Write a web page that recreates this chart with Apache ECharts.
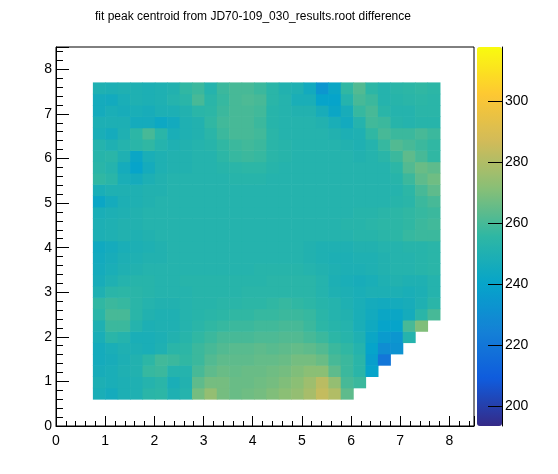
<!DOCTYPE html>
<html><head><meta charset="utf-8">
<script src="https://cdn.jsdelivr.net/npm/echarts@6/dist/echarts.min.js"></script>
<style>html,body{margin:0;padding:0;background:#fff}#c{width:558px;height:474px}</style>
</head><body><div id="c"></div>
<script>
// Histogram binning (bin edges) of the plotted region
const xBinStart = 0.75, xBinWidth = 0.252, nX = 28;
const yBinStart = 0.605, yBinWidth = 0.2536, nY = 28;
// Colour (z) scale range and colour bar ticks
const zMin = 193.5, zMax = 317.8;
const zTicks = [200, 220, 240, 260, 280, 300];
const axisTicks = [0, 1, 2, 3, 4, 5, 6, 7, 8];
const titleText = 'fit peak centroid from JD70-109_030_results.root difference';
// ROOT kBird palette
const birdColors = ['#352a87','#0f5cdd','#1481d6','#06a4ca','#2eb7a4','#87bf77','#d1bb59','#fec832','#f9fb0e'];

// z values, one row per y bin (row 0 = bottom), columns left to right; null = empty bin
const z_r27 = [250,249,250,250,249,250,251,256,258,252,258,260,260,258,254,251,250,245,234,242,256,262,255,252,254,255,256,255];
const z_r26 = [246,245,248,250,249,250,252,254,260,254,257,260,261,260,254,252,248,248,240,240,252,260,258,252,253,254,255,254];
const z_r25 = [246,248,247,248,247,249,249,251,254,255,258,260,260,259,253,252,251,251,247,242,247,257,260,254,252,252,254,254];
const z_r24 = [249,249,249,246,246,243,245,250,251,256,259,260,260,258,253,252,252,252,251,248,245,252,259,258,253,252,253,253];
const z_r23 = [248,246,250,255,260,254,248,250,251,254,258,260,260,259,254,252,252,252,252,251,249,250,256,260,258,258,260,258];
const z_r22 = [252,250,252,254,256,252,250,251,252,253,256,258,259,258,254,253,252,252,252,252,251,250,252,257,262,260,258,256];
const z_r21 = [253,254,250,242,248,250,251,251,252,252,255,257,258,257,254,253,252,252,252,252,252,251,252,254,258,264,260,256];
const z_r20 = [254,252,246,240,246,250,251,251,252,252,253,254,255,255,253,252,252,252,252,252,252,252,252,252,255,262,266,264];
const z_r19 = [256,254,248,246,249,251,252,252,252,252,252,253,253,253,252,252,252,252,252,252,252,252,252,252,253,258,264,267];
const z_r18 = [248,250,250,250,251,251,252,252,252,252,252,252,252,252,252,252,252,252,252,252,252,252,252,252,252,255,260,264];
const z_r17 = [242,246,249,250,251,252,252,252,252,252,252,252,252,252,252,252,252,252,252,252,252,252,252,252,253,254,258,260];
const z_r16 = [248,249,250,251,252,252,252,252,252,252,252,252,252,252,252,252,252,252,252,252,252,253,253,254,255,256,257,258];
const z_r15 = [249,250,251,251,252,252,252,252,252,252,252,252,252,252,252,252,252,252,252,252,253,253,254,255,255,256,258,259];
const z_r14 = [249,250,251,250,251,252,252,252,252,252,252,252,252,252,252,252,252,252,252,252,252,253,253,254,255,257,258,258];
const z_r13 = [244,246,248,249,250,251,252,252,252,252,252,252,252,252,252,252,252,251,250,250,250,251,251,252,252,253,253,254];
const z_r12 = [245,247,249,250,251,251,252,252,252,252,252,252,252,252,252,252,252,251,250,249,249,250,250,251,252,252,253,254];
const z_r11 = [246,248,250,251,252,252,252,252,252,252,252,252,252,253,253,253,253,252,251,250,249,249,250,251,252,252,253,254];
const z_r10 = [247,250,252,253,253,252,252,253,253,253,253,253,253,253,254,254,254,254,252,249,248,247,248,250,251,250,250,252];
const z_r09 = [250,254,255,254,253,252,252,252,253,253,253,253,254,254,254,254,254,254,252,250,249,248,249,249,249,248,249,252];
const z_r08 = [256,258,257,254,252,251,251,252,253,253,254,254,255,255,256,257,256,255,253,252,250,248,246,245,246,247,250,254];
const z_r07 = [254,260,260,254,251,250,250,252,253,254,255,256,256,257,257,258,258,257,254,252,251,248,245,242,242,246,254,260];
const z_r06 = [250,258,258,252,249,250,250,252,254,256,257,258,258,259,259,260,260,258,255,253,252,248,244,240,240,260,270,null];
const z_r05 = [248,254,252,248,248,249,251,253,256,258,260,260,260,261,261,262,262,260,258,255,253,250,242,236,234,252,null,null];
const z_r04 = [246,248,250,249,248,250,254,255,258,260,262,263,263,264,263,264,265,264,262,258,256,252,240,230,232,null,null,null];
const z_r03 = [246,247,249,251,255,259,258,256,258,262,264,264,264,265,265,266,268,268,266,260,258,254,238,220,null,null,null,null];
const z_r02 = [247,248,250,251,257,258,252,252,260,264,266,265,266,266,267,268,270,272,272,264,258,254,240,null,null,null,null,null];
const z_r01 = [249,248,249,250,252,254,248,251,264,268,268,266,266,267,268,270,272,276,282,274,260,258,null,null,null,null,null,null];
const z_r00 = [248,246,249,250,254,255,250,252,268,274,268,266,267,268,270,272,274,278,284,280,264,null,null,null,null,null,null,null];

const zRows = [z_r00,z_r01,z_r02,z_r03,z_r04,z_r05,z_r06,z_r07,z_r08,z_r09,z_r10,z_r11,z_r12,z_r13,
               z_r14,z_r15,z_r16,z_r17,z_r18,z_r19,z_r20,z_r21,z_r22,z_r23,z_r24,z_r25,z_r26,z_r27];

const cells = [];
zRows.forEach((row, i) => row.forEach((v, j) => {
  if (v !== null) cells.push([xBinStart + j * xBinWidth, yBinStart + i * yBinWidth, v]);
}));

const FONT = "'Liberation Sans', Arial, Helvetica, sans-serif";
const chart = echarts.init(document.getElementById('c'), null, {renderer: 'canvas'});
chart.setOption({
  animation: false,
  backgroundColor: '#fff',
  title: {
    text: titleText, left: 90, top: 6,
    textStyle: {fontFamily: FONT, fontSize: 12, fontWeight: 'normal', color: '#000'}
  },
  grid: [
    {left: 56, top: 47, width: 418, height: 379, show: true, borderColor: '#000', borderWidth: 1, backgroundColor: 'transparent'},
    {left: 477, top: 47, width: 25, height: 379, show: false}
  ],
  xAxis: [
    {gridIndex: 0, type: 'value', min: 0, max: 8.5, interval: 1,
     axisLine: {show: true, onZero: false, lineStyle: {color: '#000', width: 1}},
     axisTick: {show: true, inside: true, length: 10, lineStyle: {color: '#000'}},
     axisLabel: {customValues: axisTicks, fontFamily: FONT, fontSize: 14, color: '#000', margin: 8},
     splitLine: {show: false}},
    {gridIndex: 0, type: 'value', min: 0, max: 8.5, interval: 0.2, position: 'bottom',
     axisLine: {show: false, onZero: false}, axisTick: {show: true, inside: true, length: 5, lineStyle: {color: '#000'}},
     axisLabel: {show: false}, splitLine: {show: false}},
    {gridIndex: 1, type: 'value', show: false, min: 1, max: 2, axisLine: {onZero: false}}
  ],
  yAxis: [
    {gridIndex: 0, type: 'value', min: 0, max: 8.5, interval: 1, position: 'left',
     axisLine: {show: true, onZero: false, lineStyle: {color: '#000', width: 1}},
     axisTick: {show: true, inside: true, length: 13, lineStyle: {color: '#000'}},
     axisLabel: {customValues: axisTicks, fontFamily: FONT, fontSize: 14, color: '#000', margin: 4},
     splitLine: {show: false}},
    {gridIndex: 0, type: 'value', min: 0, max: 8.5, interval: 0.2, position: 'left',
     axisLine: {show: false, onZero: false}, axisTick: {show: true, inside: true, length: 7, lineStyle: {color: '#000'}},
     axisLabel: {show: false}, splitLine: {show: false}},
    {gridIndex: 1, type: 'value', min: zMin, max: zMax, position: 'right', z: 10,
     axisLine: {show: true, onZero: false, lineStyle: {color: '#000', width: 1}},
     axisTick: {show: true, inside: true, length: 14, customValues: zTicks, lineStyle: {color: '#000'}},
     axisLabel: {customValues: zTicks, fontFamily: FONT, fontSize: 14, color: '#000', margin: 3},
     splitLine: {show: false}}
  ],
  visualMap: {
    type: 'continuous', min: zMin, max: zMax, dimension: 2, seriesIndex: 0,
    inRange: {color: birdColors},
    left: 477, top: 47, itemWidth: 25, itemHeight: 379, padding: 0,
    calculable: false, hoverLink: false, text: null, showLabel: false,
    orient: 'vertical', z: 2
  },
  series: [{
    type: 'custom', xAxisIndex: 0, yAxisIndex: 0, clip: true,
    data: cells,
    encode: {x: 0, y: 1},
    renderItem: function (params, api) {
      const x0 = api.value(0), y0 = api.value(1);
      const p0 = api.coord([x0, y0]);
      const p1 = api.coord([x0 + xBinWidth, y0 + yBinWidth]);
      return {
        type: 'rect',
        shape: {x: p0[0], y: p1[1], width: p1[0] - p0[0] + 0.6, height: p0[1] - p1[1] + 0.6},
        style: {fill: api.visual('color'), stroke: null}
      };
    }
  }]
});
</script></body></html>
